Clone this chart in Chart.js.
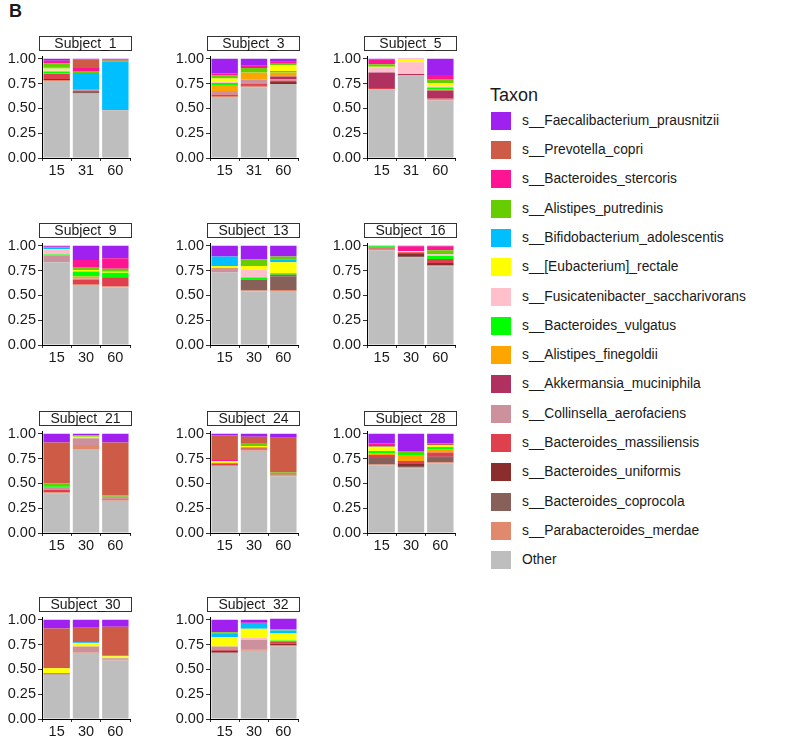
<!DOCTYPE html>
<html>
<head>
<meta charset="utf-8">
<script src="https://cdn.jsdelivr.net/npm/chart.js@4"></script>
<style>
  body { margin: 0; background: #fff; width: 793px; height: 739px; position: relative; overflow: hidden;
         font-family: "Liberation Sans", Arial, sans-serif; color: #1a1a1a; }
  canvas { position: absolute; }
  .strip { position: absolute; box-sizing: border-box; border: 1px solid #333; background: #fff;
           font-size: 14px; line-height: 13px; text-align: center; }
  .tag { position: absolute; left: 9px; top: 1px; font-weight: bold; font-size: 18px; }
  .legtitle { position: absolute; left: 490px; top: 85px; font-size: 18px; }
  .key { position: absolute; left: 491px; width: 20px; height: 18px; }
  .keytxt { position: absolute; left: 522px; font-size: 13.8px; line-height: 18px; white-space: nowrap; }
</style>
</head>
<body>
<div class="tag">B</div>
<div class="legtitle">Taxon</div>
<script>
// 被験者とサンプリング日
const subjects = ["Subject_1", "Subject_3", "Subject_5", "Subject_9", "Subject_13", "Subject_16",
                  "Subject_21", "Subject_24", "Subject_28", "Subject_30", "Subject_32"];
const dayLabels = [["15", "31", "60"], ["15", "31", "60"], ["15", "31", "60"],
                   ["15", "30", "60"], ["15", "30", "60"], ["15", "30", "60"],
                   ["15", "30", "60"], ["15", "30", "60"], ["15", "30", "60"],
                   ["15", "30", "60"], ["15", "30", "60"]];
const yTicks = [0, 0.25, 0.5, 0.75, 1];

// 相対存在量（被験者ごとに [15, 30/31, 60]）
const faecalibacterium = [[.02,.005,.005],[.15,.07,.03],[.005,0,.165],[.01,.145,.127],[.11,.14,.11],[.005,.005,.005],[.09,.015,.09],[.015,.03,.04],[.10,.175,.10],[.088,.08,.07],[.126,.03,.11]];
const prevotella = [[0,.09,.015],[0,0,0],[0,0,0],[0,0,0],[0,0,0],[0,0,0],[.41,0,.53],[.25,.065,.35],[0,0,.015],[.40,.148,.293],[0,0,0]];
const stercoris = [[.025,.03,0],[.02,.025,.02],[.05,.005,.04],[.008,.07,.105],[0,0,0],[0,.05,.04],[0,0,0],[.01,0,0],[.03,0,0],[0,0,0],[0,.012,0]];
const putredinis = [[.045,.02,.01],[.03,.03,.015],[.025,0,.04],[0,.03,.03],[0,.065,.032],[0,0,.04],[.03,.015,.015],[0,.03,.02],[.005,.02,0],[0,0,0],[.01,0,.01]];
const bifidobacterium = [[.01,.16,.48],[0,0,0],[0,0,0],[.015,0,0],[.095,0,.025],[0,0,0],[0,0,0],[0,0,0],[0,0,0],[0,.006,.006],[.038,.05,.03]];
const eubacterium = [[.02,0,0],[.03,0,.06],[.005,.03,.035],[.005,.015,.01],[.025,.035,.11],[0,.01,0],[0,.015,0],[.02,.012,0],[.04,0,.02],[.05,.035,.019],[.095,.088,.07]];
const fusicatenibacter = [[.01,0,0],[.015,0,0],[.055,.12,.01],[.05,0,0],[0,.08,0],[0,0,.02],[0,0,0],[0,0,0],[0,0,0],[0,0,0],[0,.022,0]];
const vulgatus = [[.015,0,0],[.02,.015,.015],[0,0,.015],[.01,.05,.047],[0,.02,.015],[.015,0,.03],[.015,0,0],[.01,.01,0],[.025,.02,.025],[.005,0,0],[0,0,.015]];
const finegoldii = [[.01,0,0],[.06,.07,.04],[0,0,.015],[0,.02,0],[0,0,0],[0,0,0],[0,0,0],[0,0,0],[.015,.06,.03],[0,0,0],[0,0,0]];
const akkermansia = [[0,0,0],[0,0,.03],[.155,.01,.08],[0,0,0],[.01,0,0],[0,0,0],[0,0,0],[0,0,0],[0,0,0],[0,0,0],[0,0,0]];
const collinsella = [[0,.02,0],[.035,.045,.01],[0,0,0],[.07,.015,0],[.03,0,0],[0,0,0],[.02,.07,.02],[0,0,0],[0,0,0],[0,.057,.016],[.03,.095,0]];
const massiliensis = [[.05,.01,.01],[.015,.015,.015],[.01,0,.01],[0,.04,.09],[0,0,.015],[.01,.01,.04],[.015,0,.01],[.01,.015,.008],[.03,.03,.04],[.005,0,0],[.015,0,.015]];
const uniformis = [[.01,0,0],[0,.01,.02],[0,0,0],[0,0,0],[0,0,0],[0,.03,.025],[.01,0,0],[0,0,0],[0,.02,.013],[.005,0,0],[.02,0,.02]];
const coprocola = [[0,.015,0],[0,0,0],[0,0,0],[0,0,0],[0,.11,.14],[0,.012,0],[0,0,0],[0,0,0],[.065,.015,.045],[0,0,0],[0,0,0]];
const merdae = [[.01,0,0],[.01,.01,0],[.005,0,.012],[0,.01,.01],[0,.01,.01],[.015,0,.006],[.01,.04,.01],[.01,.01,.01],[.01,.008,.012],[0,.006,.006],[0,.016,.01]];
const other = [[.775,.65,.48],[.615,.71,.745],[.69,.835,.578],[.832,.605,.581],[.73,.54,.543],[.955,.883,.794],[.40,.845,.325],[.675,.828,.572],[.68,.652,.70],[.447,.668,.59],[.666,.687,.73]];

// 凡例の順（上から）
const taxa = [
  { name: "s__Faecalibacterium_prausnitzii", color: "#A020F0", values: faecalibacterium },
  { name: "s__Prevotella_copri", color: "#CD5B45", values: prevotella },
  { name: "s__Bacteroides_stercoris", color: "#FF1493", values: stercoris },
  { name: "s__Alistipes_putredinis", color: "#66CD00", values: putredinis },
  { name: "s__Bifidobacterium_adolescentis", color: "#00BFFF", values: bifidobacterium },
  { name: "s__[Eubacterium]_rectale", color: "#FFFF00", values: eubacterium },
  { name: "s__Fusicatenibacter_saccharivorans", color: "#FFC0CB", values: fusicatenibacter },
  { name: "s__Bacteroides_vulgatus", color: "#00FF00", values: vulgatus },
  { name: "s__Alistipes_finegoldii", color: "#FFA500", values: finegoldii },
  { name: "s__Akkermansia_muciniphila", color: "#B03060", values: akkermansia },
  { name: "s__Collinsella_aerofaciens", color: "#CD919E", values: collinsella },
  { name: "s__Bacteroides_massiliensis", color: "#E0404E", values: massiliensis },
  { name: "s__Bacteroides_uniformis", color: "#8B2D2D", values: uniformis },
  { name: "s__Bacteroides_coprocola", color: "#87605A", values: coprocola },
  { name: "s__Parabacteroides_merdae", color: "#E0896C", values: merdae },
  { name: "Other", color: "#BEBEBE", values: other },
];

// パネル配置
const colLeft = [42, 210, 367];
const rowTop = [54, 240.5, 428.5, 615]; // 1.00 の位置
const font = { family: "'Liberation Sans', Arial, sans-serif", size: 14.5 };

// 凡例
taxa.forEach((t, i) => {
  const top = 111.7 + i * 29.3;
  const k = document.createElement("div");
  k.className = "key";
  k.style.top = top + "px";
  k.style.background = t.color;
  document.body.appendChild(k);
  const s = document.createElement("div");
  s.className = "keytxt";
  s.style.top = top + "px";
  s.textContent = t.name;
  document.body.appendChild(s);
});

subjects.forEach((subj, p) => {
  const left = colLeft[p % 3];
  const top = rowTop[Math.floor(p / 3)];

  const cv = document.createElement("canvas");
  cv.width = 134;
  cv.height = 134;
  cv.style.left = (left - 42) + "px";
  cv.style.top = (top - 2 - 6) + "px";
  document.body.appendChild(cv);

  const strip = document.createElement("div");
  strip.className = "strip";
  strip.style.left = (left - 3) + "px";
  strip.style.top = (top - 18) + "px";
  strip.style.width = "93px";
  strip.style.height = "15px";
  strip.textContent = subj;
  document.body.appendChild(strip);

  // 下から積む（Other が一番下）
  const datasets = taxa.slice().reverse().map((t) => ({
    label: t.name,
    data: t.values[p],
    backgroundColor: t.color,
    borderWidth: 0,
    categoryPercentage: 1,
    barPercentage: 0.9,
  }));

  new Chart(cv, {
    type: "bar",
    data: { labels: dayLabels[p], datasets: datasets },
    options: {
      responsive: false,
      animation: false,
      devicePixelRatio: 1,
      layout: { padding: { top: 6, right: 4, left: 0, bottom: 0 } },
      plugins: { legend: { display: false }, tooltip: { enabled: false } },
      scales: {
        x: {
          stacked: true,
          grid: { drawOnChartArea: false, tickLength: 3, color: "#333" },
          border: { color: "#000", width: 1 },
          ticks: { color: "#1a1a1a", font: font, padding: 1, maxRotation: 0 },
          afterFit: (s) => { s.height = 22; },
        },
        y: {
          stacked: true,
          min: 0,
          max: 1.02,
          afterBuildTicks: (s) => { s.ticks = yTicks.map((v) => ({ value: v })); },
          grid: { drawOnChartArea: false, tickLength: 4, color: "#333" },
          border: { color: "#000", width: 1 },
          ticks: { color: "#1a1a1a", font: font, padding: 2, callback: (v) => v.toFixed(2) },
          afterFit: (s) => { s.width = 42; },
        },
      },
    },
  });
});
</script>
</body>
</html>
